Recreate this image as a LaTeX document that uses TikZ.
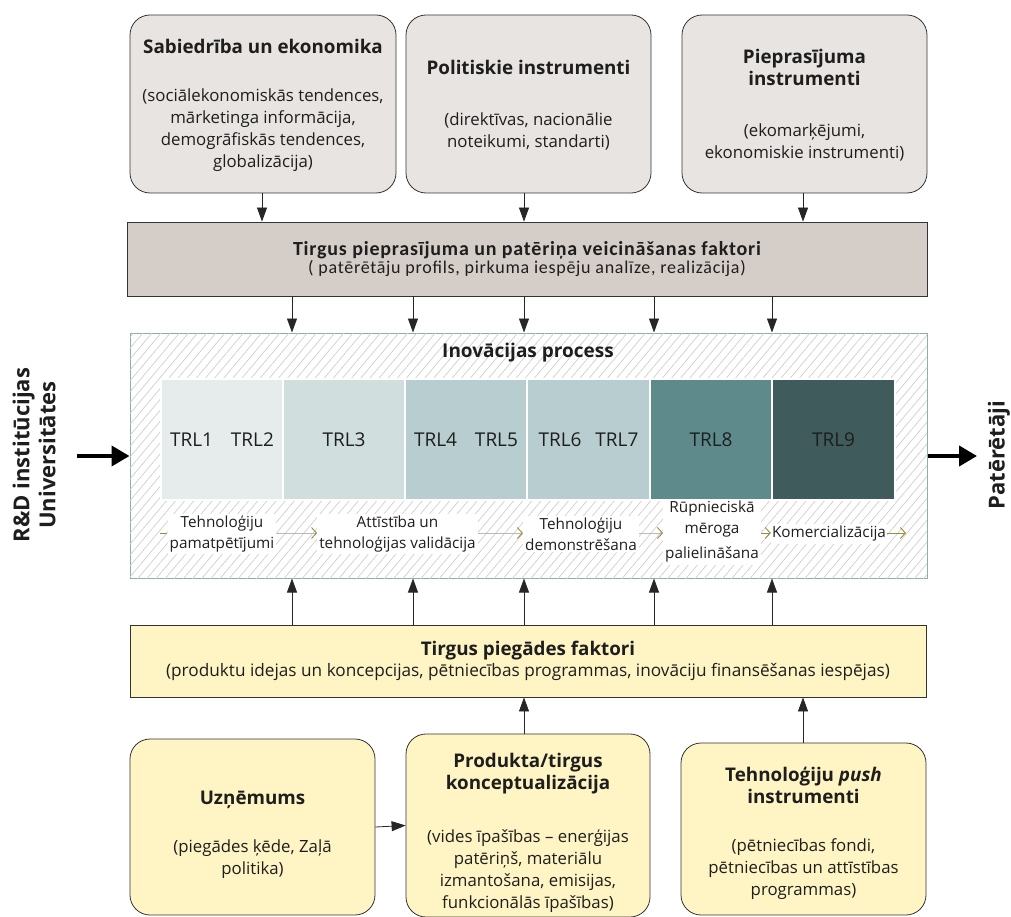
\documentclass[tikz,border=0pt]{standalone}
\usepackage{fontspec}
\setmainfont{Open Sans}
\newfontfamily\condfont{Carlito}
\usetikzlibrary{arrows.meta,patterns.meta}

\definecolor{boxgray}{HTML}{E8E4E1}
\definecolor{demandgray}{HTML}{D5CDC8}
\definecolor{supplyyellow}{HTML}{FFF4C3}
\definecolor{innoborder}{HTML}{8DAEAD}
\definecolor{trlA}{HTML}{E6ECEC}
\definecolor{trlB}{HTML}{D0DEDE}
\definecolor{trlC}{HTML}{B8CDCF}
\definecolor{trlD}{HTML}{5F8A8B}
\definecolor{trlE}{HTML}{405B5C}
\definecolor{olivetip}{HTML}{9C8A3E}
\definecolor{hatch}{HTML}{CFCFCF}
\definecolor{ink}{HTML}{1E1E1E}

\newcommand\subfnt{\fontsize{16.8}{22}\selectfont}
\newcommand\ttlfnt{\fontsize{18.8}{22}\selectfont\bfseries}

\tikzset{
  roundbox/.style={draw=black!80, line width=0.8pt, rounded corners=20pt,
    align=center, inner sep=4pt, font=\subfnt, text=ink},
  flatbox/.style={draw=black!80, line width=0.8pt, align=center, inner sep=3pt, text=ink},
  arr/.style={draw=black!85, line width=0.8pt, -{Triangle[length=14pt,width=10pt]}},
  bigarr/.style={draw=black, line width=4pt, -{Triangle[length=18pt,width=20pt]}},
  trl/.style={draw=white, line width=1.2pt, inner sep=0pt, text=ink,
    font=\fontsize{19}{22}\selectfont},
  phase/.style={fill=white, inner sep=2pt, align=center, text=ink,
    font=\fontsize{15.3}{21}\selectfont},
  chainline/.style={draw=gray!55, line width=0.8pt},
  chainarr/.style={chainline, -{Straight Barb[color=olivetip,length=5pt,width=11pt,line width=0.9pt]}},
  sidelabel/.style={rotate=90, align=center, font=\fontsize{22}{26}\selectfont\bfseries, text=ink}
}

\begin{document}
\begin{tikzpicture}[x=1pt,y=-1pt]
\useasboundingbox (0,0) rectangle (1011,917);

% ---- demand side sources
\node[roundbox, fill=boxgray, minimum width=266, minimum height=178] (soc) at (263,104)
  {\rule{0pt}{17pt}{\ttlfnt Sabiedrība un ekonomika}\\[26pt]
   (sociālekonomiskās tendences,\\ mārketinga informācija,\\ demogrāfiskās tendences,\\ globalizācija)};
\node[roundbox, fill=boxgray, minimum width=245, minimum height=178] (pol) at (528.5,104)
  {\rule{0pt}{17pt}{\ttlfnt Politiskie instrumenti}\\[29pt]
   (direktīvas, nacionālie\\ noteikumi, standarti)};
\node[roundbox, fill=boxgray, minimum width=245, minimum height=178] (dem) at (804.5,104)
  {\rule{0pt}{17pt}{\ttlfnt Pieprasījuma}\\{\ttlfnt instrumenti}\\[29pt]
   (ekomarķējumi,\\ ekonomiskie instrumenti)};

% ---- demand factors
\node[flatbox, fill=demandgray, minimum width=800, minimum height=74] (pull) at (527,259)
  {{\condfont\addfontfeature{LetterSpace=4}\fontsize{20}{23}\selectfont\bfseries Tirgus pieprasījuma un patēriņa veicināšanas faktori}\\[1pt]
   {\condfont\addfontfeature{LetterSpace=4}\fontsize{18}{23}\selectfont ( patērētāju profils, pirkuma iespēju analīze, realizācija)}};

% ---- innovation process frame
\node[draw=innoborder, line width=1pt, fill=white,
      postaction={pattern={Lines[angle=50,distance=7pt,line width=0.7pt]}, pattern color=hatch},
      minimum width=797, minimum height=245, inner sep=0pt] (inno) at (528.5,455.5) {};
\node[font=\fontsize{19}{20}\selectfont\bfseries, text=ink] (innot) at (528,353) {Inovācijas process};

% ---- technology readiness levels
\node[trl, fill=trlA, minimum width=122, minimum height=121] (t12) at (222,439.5) {TRL1\hspace{18pt}TRL2};
\node[trl, fill=trlB, minimum width=122, minimum height=121] (t3)  at (344,439.5) {TRL3};
\node[trl, fill=trlC, minimum width=122, minimum height=121] (t45) at (466,439.5) {TRL4\hspace{18pt}TRL5};
\node[trl, fill=trlC, minimum width=123, minimum height=121] (t67) at (588.5,439.5) {TRL6\hspace{14pt}TRL7};
\node[trl, fill=trlD, minimum width=122, minimum height=121] (t8)  at (711,439.5) {TRL8};
\node[trl, fill=trlE, minimum width=123, minimum height=121] (t9)  at (833.5,439.5) {TRL9};

% ---- development phases
\coordinate (pstart) at (160,533);
\coordinate (pend) at (906,533);
\node[phase] (p1) at (222,534) {Tehnoloģiju\\ pamatpētījumi};
\node[phase] (p2) at (397.5,534) {Attīstība un\\ tehnoloģijas validācija};
\node[phase] (p3) at (581,534) {Tehnoloģiju\\ demonstrēšana};
\node[phase] (p4) at (712,532) {Rūpnieciskā\\ mēroga\\[4pt] palielināšana};
\node[phase, inner xsep=1pt] (p5) at (829,534) {Komercializācija};
\draw[olivetip, line width=0.9pt] (pstart) -- (p1.west |- pstart);
\draw[chainarr] (p1.east |- pstart) -- (p2.west |- pstart);
\draw[chainarr] (p2.east |- pstart) -- (p3.west |- pstart);
\draw[chainarr] (p3.east |- pstart) -- (p4.west |- pstart);
\draw[chainarr, draw=olivetip] (p4.east |- pstart) -- (p5.west |- pstart);
\draw[chainarr, draw=olivetip] (p5.east |- pstart) -- (pend);

% ---- supply factors
\node[flatbox, fill=supplyyellow, minimum width=796, minimum height=72] (push) at (528,661)
  {{\ttlfnt Tirgus piegādes faktori}\\[3pt]
   {\fontsize{17.2}{22}\selectfont (produktu idejas un koncepcijas, pētniecības programmas, inovāciju finansēšanas iespējas)}};

\node[roundbox, fill=supplyyellow, minimum width=245, minimum height=176] (firm) at (252.5,827)
  {\rule{0pt}{30pt}{\ttlfnt Uzņēmums}\\[26pt]
   (piegādes ķēde, Zaļā\\ politika)};
\node[roundbox, fill=supplyyellow, minimum width=244, minimum height=179] (prod) at (528,825.5)
  {\rule{0pt}{30pt}{\ttlfnt Produkta/tirgus}\\{\ttlfnt konceptualizācija}\\[31pt]
   (vides īpašības -- enerģijas\\ patēriņš, materiālu\\ izmantošana, emisijas,\\ funkcionālās īpašības)};
\node[roundbox, fill=supplyyellow, minimum width=245, minimum height=172] (tech) at (803.5,829)
  {\rule{0pt}{24pt}{\ttlfnt Tehnoloģiju \textit{push}}\\{\ttlfnt instrumenti}\\[26pt]
   (pētniecības fondi,\\ pētniecības un attīstības\\ programmas)};

% ---- side actors
\node[sidelabel] (rnd) at (34,455) {R\&D institūcijas\\ Universitātes};
\node[sidelabel] (cons) at (999,455) {Patērētāji};
\coordinate (inL) at (77,456);
\coordinate (outR) at (977,456);
\draw[bigarr] (inL) -- (inL -| inno.west);
\draw[bigarr] (outR -| inno.east) -- (outR);

% ---- arrow columns
\coordinate (a1) at (292,0);
\coordinate (a2) at (413,0);
\coordinate (a3) at (524,0);
\coordinate (a4) at (654,0);
\coordinate (a5) at (772,0);
\coordinate (b1) at (262,0);
\coordinate (b3) at (803,0);

\draw[arr] (soc.south -| b1) -- (pull.north -| b1);
\draw[arr] (pol.south -| a3) -- (pull.north -| a3);
\draw[arr] (dem.south -| b3) -- (pull.north -| b3);

\foreach \c in {a1,a2,a3,a4,a5}{
  \draw[arr] (pull.south -| \c) -- (inno.north -| \c);
  \draw[arr] (push.north -| \c) -- (inno.south -| \c);
}

\draw[arr] (firm.east) -- (prod.west);
\draw[arr] (prod.north -| a3) -- (push.south -| a3);
\draw[arr] (tech.north -| b3) -- (push.south -| b3);
\end{tikzpicture}
\end{document}
